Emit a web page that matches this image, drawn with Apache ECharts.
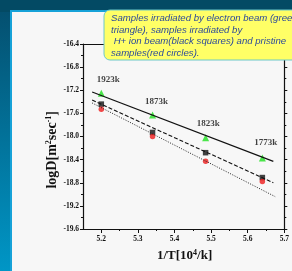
<!DOCTYPE html>
<html>
<head>
<meta charset="utf-8">
<script src="https://cdn.jsdelivr.net/npm/echarts@6/dist/echarts.min.js"></script>
<style>
html, body { margin: 0; padding: 0; background: #024a64; }
#view { width: 292px; height: 271px; }
</style>
</head>
<body>
<div id="view"></div>
<script>
var myChart = echarts.init(document.getElementById('view'));

// 1/T [10^4/k] for the four temperatures
var invT = [5.2, 5.34, 5.485, 5.64];
var temps = ['1923k', '1873k', '1823k', '1773k'];
var electron = [-17.25, -17.63, -18.02, -18.37];   // green triangles
var proton = [-17.44, -17.93, -18.28, -18.71];     // black squares
var pristine = [-17.53, -18.0, -18.43, -18.78];    // red circles

// fitted lines, read as end points
var fitElectron = [[5.175, -17.23], [5.67, -18.43]];
var fitProton = [[5.175, -17.37], [5.67, -18.80]];
var fitPristine = [[5.175, -17.42], [5.675, -19.04]];

// where the temperature labels sit
var tempLabelPos = [[5.219, -17.01], [5.351, -17.39], [5.492, -17.77], [5.649, -18.10]];

var xMajor = [5.2, 5.3, 5.4, 5.5, 5.6, 5.7];
var xMinor = [5.25, 5.35, 5.45, 5.55, 5.65];

var noteLines = [
    'Samples irradiated by electron beam (green',
    'triangle), samples irradiated by',
    ' H+ ion beam(black squares) and pristine',
    'samples(red circles).'
];

function pairs(xs, ys) {
    return xs.map(function (x, i) { return [x, ys[i]]; });
}

var serif = '"Liberation Serif", "Times New Roman", serif';
var tickFont = { fontFamily: serif, fontWeight: 'bold', fontSize: 7.5, color: '#111' };

var graphics = [
    { type: 'rect', z: -10, shape: { x: 0, y: 0, width: 292, height: 12 }, style: { fill: '#034a64' } },
    { type: 'rect', z: -10, shape: { x: 0, y: 12, width: 12, height: 259 },
      style: { fill: new echarts.graphic.LinearGradient(0, 0, 0, 1, [
          { offset: 0, color: '#045070' }, { offset: 1, color: '#0096c6' }]) } },
    { type: 'rect', z: -9, shape: { x: 11, y: 11, width: 290, height: 270 },
      style: { fill: '#f7f7f7', stroke: '#16a2d8', lineWidth: 2 } },
    { type: 'text', left: 45, top: 111, rotation: Math.PI / 2, z: 10,
      style: {
          text: '{n|logD[m}{s|2}{n|sec}{s|-1}{n|]}',
          rich: {
              n: { fontFamily: serif, fontWeight: 'bold', fontSize: 14, fill: '#111', verticalAlign: 'bottom' },
              s: { fontFamily: serif, fontWeight: 'bold', fontSize: 8, fill: '#111', verticalAlign: 'top' }
          }
      } },
    { type: 'text', left: 157, top: 249, z: 10,
      style: {
          text: '{n|1/T[10}{s|4}{n|/k]}',
          rich: {
              n: { fontFamily: serif, fontWeight: 'bold', fontSize: 13, fill: '#111', verticalAlign: 'bottom' },
              s: { fontFamily: serif, fontWeight: 'bold', fontSize: 8, fill: '#111', verticalAlign: 'top' }
          }
      } },
    { type: 'rect', z: 20, shape: { x: 104, y: 10, width: 200, height: 50, r: 6 },
      style: { fill: '#ffff66', stroke: '#6cc8c8', lineWidth: 1 } },
    { type: 'text', z: 21, left: 111, top: 13,
      style: {
          text: noteLines.join('\n'),
          fontFamily: '"Liberation Sans", Arial, sans-serif',
          fontStyle: 'italic',
          fontSize: 9.6,
          lineHeight: 11.4,
          fill: '#2c4a9a'
      } }
];

option = {
    backgroundColor: '#024a64',
    animation: false,
    grid: { left: 83, top: 44, right: 5, bottom: 42 },
    graphic: graphics,
    xAxis: [{
        type: 'value',
        min: 5.15,
        max: 5.7,
        interval: 0.05,
        splitLine: { show: false },
        axisLine: { onZero: false, lineStyle: { color: '#111', width: 1.2 } },
        axisTick: { customValues: xMajor, length: 4, lineStyle: { color: '#111' } },
        axisLabel: Object.assign({ customValues: xMajor, margin: 6,
            formatter: function (v) { return v.toFixed(1); } }, tickFont)
    }, {
        type: 'value',
        min: 5.15,
        max: 5.7,
        position: 'bottom',
        splitLine: { show: false },
        axisLine: { show: false },
        axisTick: { customValues: xMinor, length: 2, lineStyle: { color: '#111' } },
        axisLabel: { show: false }
    }, {
        type: 'value',
        min: 5.15,
        max: 5.7,
        position: 'top',
        splitLine: { show: false },
        axisLine: { onZero: false, lineStyle: { color: '#111', width: 1.2 } },
        axisTick: { show: false },
        axisLabel: { show: false }
    }],
    yAxis: [{
        type: 'value',
        min: -19.6,
        max: -16.4,
        interval: 0.4,
        splitLine: { show: false },
        axisLine: { onZero: false, lineStyle: { color: '#111', width: 1.2 } },
        axisTick: { length: 3, lineStyle: { color: '#111' } },
        minorTick: { show: true, splitNumber: 2, length: 2, lineStyle: { color: '#111' } },
        axisLabel: Object.assign({ margin: 4, formatter: function (v) { return v.toFixed(1); } }, tickFont)
    }, {
        type: 'value',
        min: -19.6,
        max: -16.4,
        interval: 0.4,
        position: 'right',
        splitLine: { show: false },
        axisLine: { onZero: false, lineStyle: { color: '#111', width: 1.2 } },
        axisTick: { length: 3, lineStyle: { color: '#111' } },
        minorTick: { show: true, splitNumber: 2, length: 2, lineStyle: { color: '#111' } },
        axisLabel: { show: false }
    }],
    series: [{
        type: 'line', data: fitElectron, symbol: 'none',
        lineStyle: { color: '#111', width: 1.2 }
    }, {
        type: 'line', data: fitProton, symbol: 'none',
        lineStyle: { color: '#111', width: 1.1, type: [4, 2] }
    }, {
        type: 'line', data: fitPristine, symbol: 'none',
        lineStyle: { color: '#222', width: 1, type: [1, 1.5] }
    }, {
        type: 'scatter', data: pairs(invT, electron), symbol: 'triangle', symbolSize: 7,
        itemStyle: { color: '#1ee01e' }
    }, {
        type: 'scatter', data: pairs(invT, proton), symbol: 'rect', symbolSize: 5.5,
        itemStyle: { color: '#111' }
    }, {
        type: 'scatter', data: pairs(invT, pristine), symbol: 'circle', symbolSize: 5.5,
        itemStyle: { color: '#ee1c1c' }
    }, {
        type: 'scatter', symbolSize: 0,
        data: tempLabelPos.map(function (p, i) { return { value: p, name: temps[i] }; }),
        label: {
            show: true, position: 'inside', formatter: '{b}',
            fontFamily: serif, fontWeight: 'bold', fontSize: 9, color: '#111'
        }
    }]
};

myChart.setOption(option);
</script>
</body>
</html>
